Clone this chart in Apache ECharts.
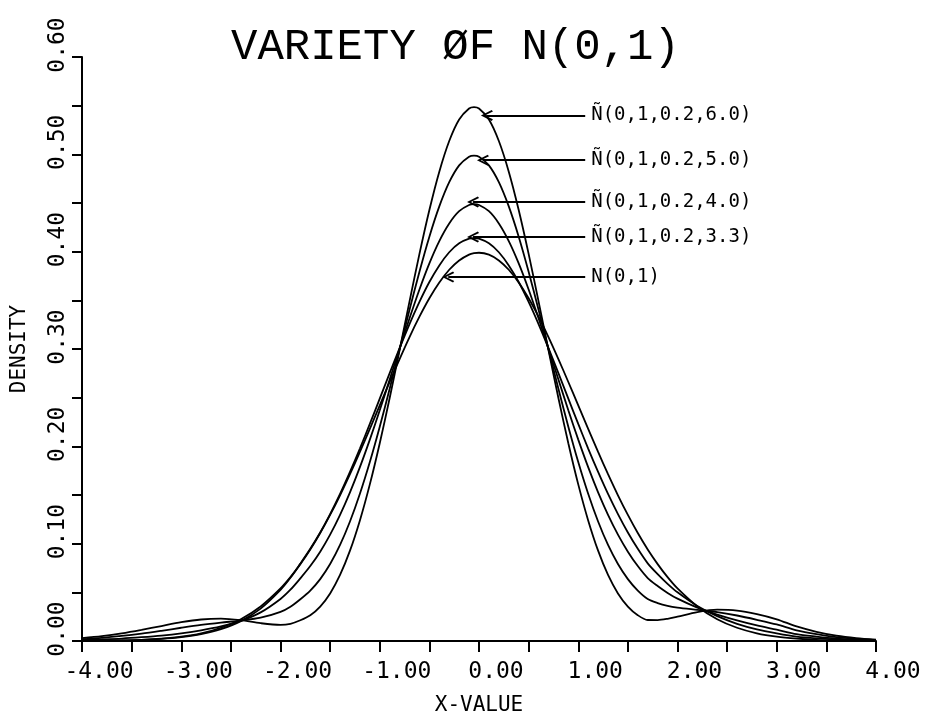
<!DOCTYPE html>
<html><head><meta charset="utf-8">
<script src="https://cdn.jsdelivr.net/npm/echarts@6/dist/echarts.min.js"></script>
<style>html,body{margin:0;padding:0;background:#fff}#c{width:930px;height:722px}</style>
</head><body><div id="c"></div>
<script>
// x grid (denser in the centre)
const xValues = [-4.0,-3.8,-3.6,-3.4,-3.2,-3.0,-2.8,-2.6,-2.4,-2.2,-2.0,
  -1.9,-1.8,-1.7,-1.6,-1.5,-1.4,-1.3,-1.2,-1.1,-1.0,-0.9,-0.8,-0.7,-0.6,-0.5,-0.4,-0.3,-0.2,-0.1,-0.05,
  0.0,0.1,0.2,0.3,0.4,0.5,0.6,0.7,0.8,0.9,1.0,1.1,1.2,1.3,1.4,1.5,1.6,1.7,1.8,1.9,
  2.0,2.2,2.4,2.6,2.8,3.0,3.2,3.4,3.6,3.8,4.0];
// density curves
const k60 = [0.0030,0.0050,0.0078,0.0114,0.0154,0.0193,0.0221,0.0230,0.0214,0.0183,0.0166,
  0.0177,0.0213,0.0265,0.0354,0.0489,0.0679,0.0928,0.1239,0.1609,0.2032,0.2497,0.2989,0.3489,0.3977,0.4428,0.4822,0.5137,0.5358,0.5471,0.5485,
  0.5471,0.5358,0.5137,0.4822,0.4428,0.3977,0.3489,0.2989,0.2497,0.2032,0.1609,0.1239,0.0928,0.0679,0.0489,0.0354,0.0265,0.0216,0.0215,0.0228,
  0.0250,0.0297,0.0322,0.0313,0.0276,0.0223,0.0150,0.0095,0.0055,0.0030,0.0015];
const k50 = [0.0020,0.0033,0.0052,0.0076,0.0105,0.0136,0.0165,0.0189,0.0210,0.0239,0.0299,
  0.0352,0.0429,0.0518,0.0636,0.0791,0.0987,0.1228,0.1513,0.1839,0.2202,0.2592,0.2997,0.3403,0.3794,0.4154,0.4465,0.4714,0.4887,0.4976,0.4987,
  0.4976,0.4887,0.4714,0.4465,0.4154,0.3794,0.3403,0.2997,0.2592,0.2202,0.1839,0.1513,0.1228,0.0987,0.0791,0.0636,0.0518,0.0432,0.0390,0.0361,
  0.0343,0.0320,0.0297,0.0262,0.0218,0.0170,0.0110,0.0070,0.0040,0.0022,0.0010];
const k40 = [0.0009,0.0016,0.0025,0.0039,0.0056,0.0079,0.0109,0.0149,0.0206,0.0294,0.0432,
  0.0527,0.0644,0.0770,0.0918,0.1093,0.1296,0.1527,0.1786,0.2069,0.2371,0.2686,0.3004,0.3316,0.3612,0.3880,0.4109,0.4290,0.4416,0.4480,0.4488,
  0.4480,0.4416,0.4290,0.4109,0.3880,0.3612,0.3316,0.3004,0.2686,0.2371,0.2069,0.1786,0.1527,0.1296,0.1093,0.0918,0.0770,0.0647,0.0565,0.0494,
  0.0435,0.0343,0.0272,0.0212,0.0160,0.0116,0.0070,0.0045,0.0025,0.0013,0.0006];
const k33 = [0.0002,0.0004,0.0007,0.0012,0.0022,0.0040,0.0070,0.0121,0.0204,0.0333,0.0525,
  0.0649,0.0795,0.0947,0.1115,0.1304,0.1511,0.1737,0.1977,0.2230,0.2490,0.2752,0.3009,0.3256,0.3484,0.3688,0.3859,0.3994,0.4086,0.4133,0.4139,
  0.4133,0.4086,0.3994,0.3859,0.3688,0.3484,0.3256,0.3009,0.2752,0.2490,0.2230,0.1977,0.1737,0.1511,0.1304,0.1115,0.0947,0.0798,0.0687,0.0587,
  0.0500,0.0360,0.0255,0.0177,0.0120,0.0079,0.0045,0.0026,0.0014,0.0007,0.0003];
const n01 = [0.0001,0.0003,0.0006,0.0012,0.0024,0.0044,0.0079,0.0136,0.0224,0.0355,0.0540,
  0.0656,0.0790,0.0940,0.1109,0.1295,0.1497,0.1714,0.1942,0.2179,0.2420,0.2661,0.2897,0.3123,0.3332,0.3521,0.3683,0.3814,0.3910,0.3970,0.3984,
  0.3989,0.3970,0.3910,0.3814,0.3683,0.3521,0.3332,0.3123,0.2897,0.2661,0.2420,0.2179,0.1942,0.1714,0.1497,0.1295,0.1109,0.0940,0.0790,0.0656,
  0.0540,0.0355,0.0224,0.0136,0.0079,0.0044,0.0024,0.0012,0.0006,0.0003,0.0001];
const seriesNames = ['\u00D1(0,1,0.2,6.0)','\u00D1(0,1,0.2,5.0)','\u00D1(0,1,0.2,4.0)','\u00D1(0,1,0.2,3.3)','N(0,1)'];
// annotation arrows (data units)
const annotY = [0.540, 0.494, 0.451, 0.415, 0.374];
const annotTipX = [0.08, 0.04, -0.06, -0.06, -0.31];
const annotStartX = 1.07;

const titleText = 'VARIETY \u00D8F N(0,1)';
const xName = 'X-VALUE';
const yName = 'DENSITY';

const TFONT = "'Liberation Mono','DejaVu Sans Mono',monospace";
const FONT = "'DejaVu Sans Mono','Liberation Mono',monospace";
const chevron = 'path://M5,0 L10,9 L8.6,10 L5,3.2 L1.4,10 L0,9 Z';
const allSeries = [k60, k50, k40, k33, n01];

const chart = echarts.init(document.getElementById('c'), null, {renderer: 'canvas'});
chart.setOption({
  backgroundColor: '#fff',
  animation: false,
  title: {
    text: titleText, left: 226, top: 20,
    textStyle: {fontFamily: TFONT, fontSize: 44, fontWeight: 'normal', color: '#000'}
  },
  grid: {left: 82, right: 54, top: 57, bottom: 81},
  xAxis: {
    type: 'value', min: -4, max: 4, interval: 1,
    name: xName, nameLocation: 'middle', nameGap: 54,
    nameTextStyle: {fontFamily: FONT, fontSize: 21, color: '#000'},
    axisLine: {onZero: false, lineStyle: {color: '#000', width: 2}},
    axisTick: {length: 11, lineStyle: {color: '#000', width: 2}},
    minorTick: {show: true, splitNumber: 2, length: 11, lineStyle: {color: '#000', width: 2}},
    splitLine: {show: false},
    axisLabel: {fontFamily: FONT, fontSize: 23, color: '#000', margin: 20,
      padding: [0, 0, 0, 34], formatter: v => v.toFixed(2)}
  },
  yAxis: {
    type: 'value', min: 0, max: 0.6, interval: 0.1,
    name: yName, nameLocation: 'middle', nameGap: 52,
    nameTextStyle: {fontFamily: FONT, fontSize: 21, color: '#000'},
    axisLine: {onZero: false, lineStyle: {color: '#000', width: 2}},
    axisTick: {length: 10, lineStyle: {color: '#000', width: 2}},
    minorTick: {show: true, splitNumber: 2, length: 10, lineStyle: {color: '#000', width: 2}},
    splitLine: {show: false},
    axisLabel: {fontFamily: FONT, fontSize: 23, color: '#000', margin: 12, rotate: 90,
      padding: [0, 0, 0, 24], formatter: v => v.toFixed(2)}
  },
  series: allSeries.map((vals, i) => ({
    name: seriesNames[i],
    type: 'line',
    smooth: 0.3,
    showSymbol: false,
    symbol: 'none',
    clip: true,
    lineStyle: {color: '#000', width: 1.8},
    data: xValues.map((x, j) => [x, vals[j]]),
    markLine: {
      silent: true, animation: false,
      symbol: ['none', chevron], symbolSize: [11, 12],
      lineStyle: {color: '#000', width: 1.8, type: 'solid'},
      label: {show: true, position: 'start', distance: 6, formatter: seriesNames[i],
        color: '#000', fontFamily: FONT, fontSize: 19},
      emphasis: {disabled: true},
      data: [[{coord: [annotStartX, annotY[i]]}, {coord: [annotTipX[i], annotY[i]]}]]
    }
  }))
});
</script>
</body></html>
